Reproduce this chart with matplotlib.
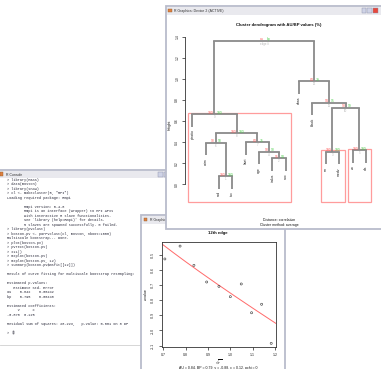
import numpy as np
import matplotlib
matplotlib.use("Agg")
import matplotlib.pyplot as plt
from matplotlib.patches import Rectangle

# ---------------- data ----------------
leaf_labels = ["ptratio", "crim", "rad", "tax", "lstat", "age", "indus", "nox",
               "chas", "black", "rm", "medv", "zn", "dis"]
# hclust-style merge table (negative = leaf position, positive = merge number)
merge_a = [-3, -7, -11, -6, -13, -2, -5, 6, -1, 3, -10, -9, 9]
merge_b = [-4, -8, -12, 2, -14, 1, 4, 7, 8, 5, 10, 11, 12]
merge_height = [0.079, 0.247, 0.309, 0.309, 0.325, 0.395, 0.398, 0.484,
                0.664, 0.728, 0.775, 0.980, 1.362]
au_labels = ["100", "95", "100", "90", "100", "90", "84", "100", "100", "93", "94", "84", "au"]
bp_labels = ["100", "94", "100", "90", "100", "58", "75", "100", "100", "99", "95", "79", "bp"]
edge_labels = ["1", "2", "3", "4", "5", "6", "7", "8", "9", "10", "11", "12", "edge #"]
pvrect_edges = [9, 3, 5]
height_ticks = [0.0, 0.2, 0.4, 0.6, 0.8, 1.0, 1.2, 1.4]
height_tick_labels = ["0.0", "0.2", "0.4", "0.6", "0.8", "1.0", "1.2", "1.4"]

sqrt_r = [0.707, 0.775, 0.837, 0.894, 0.949, 1.000, 1.049, 1.095, 1.140, 1.183]
z_values = [-0.528, -0.443, -0.570, -0.680, -0.709, -0.777, -0.693, -0.883, -0.827, -1.085]
fit_v, fit_c = -0.878, 0.125
r_ticks = [0.7, 0.8, 0.9, 1.0, 1.1, 1.2]
r_tick_labels = ["0.7", "0.8", "0.9", "1.0", "1.1", "1.2"]
z_ticks = [-0.5, -0.6, -0.7, -0.8, -0.9, -1.0, -1.1]
z_tick_labels = ["-0.5", "-0.6", "-0.7", "-0.8", "-0.9", "-1.0", "-1.1"]
msplot_sub = "AU = 0.84, BP = 0.79, v = -0.88, c = 0.12, pchi = 0"

console_lines = [
    "> library(MASS)",
    "> data(Boston)",
    "> library(snow)",
    "> cl <- makeCluster(5, \"MPI\")",
    "Loading required package: Rmpi",
    "",
    "        Rmpi version: 0.4-8",
    "        Rmpi is an interface (wrapper) to MPI APIs",
    "        with interactive R slave functionalities.",
    "        See `library (help=Rmpi)' for details.",
    "        5 slaves are spawned successfully. 0 failed.",
    "> library(pvclust)",
    "> boston.pv <- parPvclust(cl, Boston, nboot=1000)",
    "Multiscale bootstrap... Done.",
    "> plot(boston.pv)",
    "> pvrect(boston.pv)",
    "> x11()",
    "> msplot(boston.pv)",
    "> msplot(boston.pv, 12)",
    "> summary(boston.pv$msfit[[12]])",
    "",
    "Result of curve fitting for multiscale bootstrap resampling:",
    "",
    "Estimated p-values:",
    "   Estimate Std. Error",
    "au    0.842    0.00242",
    "bp    0.795    0.00448",
    "",
    "Estimated coefficients:",
    "     v      c",
    "-0.878  0.125",
    "",
    "Residual sum of squares: 28.223,   p-value: 0.001 on 8 DF",
    "",
    "> ",
]

# ---------------- style ----------------
W, H = 381, 369
FRAME = "#b9bccb"
TITLEBAR = "#e9e9ee"
TB_TEXT = "#303030"
PLOT_FONT = "Liberation Sans"
MONO = "Liberation Mono"
TREE = "#8a8a8a"
AU_COL = "#ff5a5a"
BP_COL = "#4ccf4c"
EDGE_COL = "#b4b4b4"
RECT_COL = "#ff9c9c"

fig = plt.figure(figsize=(W / 100, H / 100), dpi=100)
fig.patch.set_facecolor("white")


def px_axes(x0, y0, x1, y1, z):
    ax = fig.add_axes([x0 / W, 1 - y1 / H, (x1 - x0) / W, (y1 - y0) / H])
    ax.set_zorder(z)
    return ax


def overlay(z):
    ax = px_axes(0, 0, W, H, z)
    ax.set_xlim(0, W)
    ax.set_ylim(H, 0)
    ax.axis("off")
    return ax


def window(ax, x0, y0, x1, y1, title, buttons_at=None):
    ax.add_patch(Rectangle((x0, y0), x1 - x0, y1 - y0, facecolor="white",
                           edgecolor=FRAME, lw=1.3))
    ax.add_patch(Rectangle((x0 + 1, y0 + 1), x1 - x0 - 2, 7.5,
                           facecolor=TITLEBAR, edgecolor="none"))
    ax.add_patch(Rectangle((x0 + 2.5, y0 + 2.5), 3.5, 3.5,
                           facecolor="#e08040", edgecolor="#906030", lw=0.3))
    ax.text(x0 + 8.5, y0 + 5, title, fontsize=2.5, family=PLOT_FONT,
            color=TB_TEXT, ha="left", va="center")
    if buttons_at is not None:
        bx = buttons_at
        for i, col in enumerate(["#cfd3e6", "#cfd3e6", "#e8483c"]):
            ax.add_patch(Rectangle((bx + i * 5.6, y0 + 2.2), 4.8, 5.2,
                                   facecolor=col, edgecolor="#8a8fa8", lw=0.3))


# ---------------- console window ----------------
ov1 = overlay(1)
window(ov1, -3, 169.5, 176, 420, "R Console", buttons_at=158)
ov1.plot([0, 141], [345, 345], color="#d0d0d0", lw=0.6)
y = 180.0
for line in console_lines:
    ov1.text(7, y, line, fontsize=2.65, family=MONO, color="#2a2a3a",
             ha="left", va="center")
    y += 4.49
ov1.add_patch(Rectangle((12.5, y - 4.49 - 1.6), 1.8, 3.2, facecolor="none",
                        edgecolor="#2a2a3a", lw=0.35))

# ---------------- msplot window ----------------
ov2 = overlay(2)
window(ov2, 141, 215, 285, 420, "R Graphics: Device 3")
ov2.text(218, 233, "12th edge", fontsize=3.1, fontweight="bold",
         family=PLOT_FONT, ha="center", va="center", color="#111111")
ov2.text(145.5, 294.5, "z-value", fontsize=2.6, family=PLOT_FONT, rotation=90,
         ha="center", va="center", color="#111111")
ov2.text(218.5, 362.5, r"$\sqrt{r}$", fontsize=2.8, ha="center", va="center",
         color="#111111")
ov2.text(218.5, 368.2, msplot_sub, fontsize=2.5, family=PLOT_FONT,
         ha="center", va="center", color="#111111")

ax2 = px_axes(161.7, 242.3, 275.7, 347.0, 3)
ax2.set_xlim(0.6928, 1.2031)
ax2.set_ylim(-1.109, -0.418)
ax2.scatter(sqrt_r, z_values, s=2.2, facecolors="none", edgecolors="#444444",
            linewidths=0.45, zorder=3)
xx = np.linspace(0.6928, 1.2031, 200)
ax2.plot(xx, fit_v * xx + fit_c / xx, color="#ff6a6a", lw=0.7, zorder=2)
ax2.set_xticks(r_ticks)
ax2.set_xticklabels(r_tick_labels)
ax2.set_yticks(z_ticks)
ax2.set_yticklabels(z_tick_labels, rotation=90, va="center")
ax2.tick_params(direction="out", length=2.2, width=0.5, labelsize=2.5,
                colors="#222222", pad=2.4)
for t in ax2.get_xticklabels() + ax2.get_yticklabels():
    t.set_family(PLOT_FONT)
for s in ax2.spines.values():
    s.set_linewidth(0.6)
    s.set_color("#333333")

# ---------------- dendrogram window ----------------
ov3 = overlay(4)
window(ov3, 165.5, 6, 400, 228.5, "R Graphics: Device 2 (ACTIVE)", buttons_at=361.5)
ov3.text(279, 25, "Cluster dendrogram with AU/BP values (%)", fontsize=3.1,
         fontweight="bold", family=PLOT_FONT, ha="center", va="center",
         color="#111111")
ov3.text(169.5, 125, "Height", fontsize=2.6, family=PLOT_FONT, rotation=90,
         ha="center", va="center", color="#111111")
ov3.text(279, 220, "Distance: correlation", fontsize=2.5, family=PLOT_FONT,
         ha="center", va="center", color="#111111")
ov3.text(279, 225, "Cluster method: average", fontsize=2.5, family=PLOT_FONT,
         ha="center", va="center", color="#111111")

ax3 = px_axes(185.4, 30.0, 372.8, 202.3, 5)
n = len(leaf_labels)
ax3.set_xlim(1 - 0.04 * (n - 1), n + 0.04 * (n - 1))
ax3.set_ylim(-0.1707, 1.4636)
ax3.patch.set_alpha(0)
hang = 0.12

merge_x = []
def child_xy(k):
    if k < 0:
        return float(-k), None
    return merge_x[k - 1], merge_height[k - 1]

for a, b, h in zip(merge_a, merge_b, merge_height):
    xa, ha_ = child_xy(a)
    xb, hb_ = child_xy(b)
    merge_x.append((xa + xb) / 2)
    for xc, hc, k in ((xa, ha_, a), (xb, hb_, b)):
        bottom = hc if hc is not None else h - hang
        ax3.plot([xc, xc], [bottom, h], color=TREE, lw=1.3,
                 solid_capstyle="butt", clip_on=False)
        if k < 0:
            ax3.text(xc, bottom - 0.025, leaf_labels[-k - 1], rotation=90,
                     fontsize=2.5, family=PLOT_FONT, ha="center", va="top",
                     color="#222222")
    ax3.plot([xa, xb], [h, h], color=TREE, lw=1.3, solid_capstyle="projecting",
             clip_on=False)

for mx, h, au, bp, ed in zip(merge_x, merge_height, au_labels, bp_labels, edge_labels):
    ax3.text(mx - 0.05, h + 0.012, au, color=AU_COL, fontsize=2.4,
             family=PLOT_FONT, ha="right", va="center")
    ax3.text(mx + 0.15, h + 0.012, bp, color=BP_COL, fontsize=2.4,
             family=PLOT_FONT, ha="left", va="center")
    ax3.text(mx, h - 0.028, ed, color=EDGE_COL, fontsize=2.1,
             family=PLOT_FONT, ha="center", va="center")


def leaves_of(k):
    if k < 0:
        return [-k]
    return leaves_of(merge_a[k - 1]) + leaves_of(merge_b[k - 1])

ybot = ax3.get_ylim()[0]
for e in pvrect_edges:
    lv = leaves_of(e)
    x0, x1 = min(lv) - 0.33, max(lv) + 0.4
    top = merge_height[e - 1] + 0.012
    ax3.add_patch(Rectangle((x0, ybot), x1 - x0, top - ybot, facecolor="none",
                            edgecolor=RECT_COL, lw=0.9, clip_on=False))

for s in ("top", "right", "bottom"):
    ax3.spines[s].set_visible(False)
ax3.spines["left"].set_bounds(height_ticks[0], height_ticks[-1])
ax3.spines["left"].set_linewidth(0.6)
ax3.spines["left"].set_color("#333333")
ax3.set_xticks([])
ax3.set_yticks(height_ticks)
ax3.set_yticklabels(height_tick_labels, rotation=90, va="center")
ax3.tick_params(axis="y", direction="out", length=2.2, width=0.5,
                labelsize=2.4, colors="#222222", pad=2.2)
for t in ax3.get_yticklabels():
    t.set_family(PLOT_FONT)

fig.savefig("out.png", dpi=100, facecolor="white")
